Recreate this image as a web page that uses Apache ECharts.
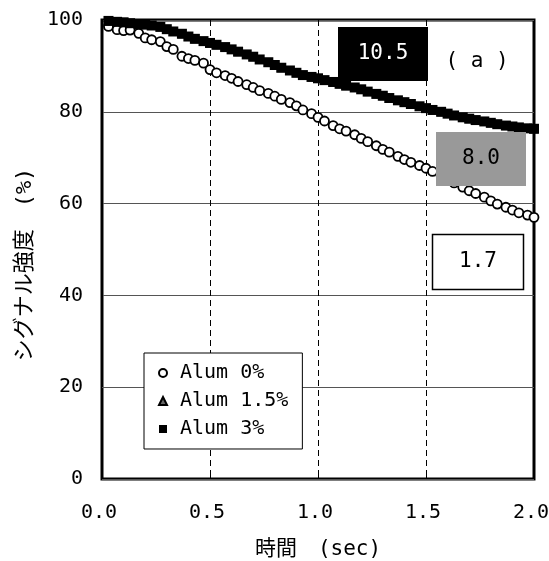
<!DOCTYPE html>
<html>
<head>
<meta charset="utf-8">
<script src="https://cdn.jsdelivr.net/npm/echarts@6/dist/echarts.min.js"></script>
<style>
html,body{margin:0;padding:0;background:#fff;}
#chart{width:549px;height:561px;}
</style>
</head>
<body>
<div id="chart"></div>
<script>
// ---- data ----
const times = [0.03,0.07,0.10,0.13,0.17,0.20,0.23,0.27,0.30,0.33,0.37,0.40,0.43,0.47,0.50,0.53,0.57,0.60,0.63,0.67,0.70,0.73,0.77,0.80,0.83,0.87,0.90,0.93,0.97,1.00,1.03,1.07,1.10,1.13,1.17,1.20,1.23,1.27,1.30,1.33,1.37,1.40,1.43,1.47,1.50,1.53,1.57,1.60,1.63,1.67,1.70,1.73,1.77,1.80,1.83,1.87,1.90,1.93,1.97,2.00];
const alum0 = [98.6,97.9,97.7,97.8,97.1,96.1,95.7,95.3,94.2,93.6,92.1,91.6,91.2,90.6,89.2,88.5,87.9,87.3,86.6,85.9,85.3,84.6,84.0,83.4,82.7,82.0,81.3,80.4,79.6,78.8,78.0,77.0,76.3,75.8,75.0,74.2,73.5,72.6,71.8,71.2,70.3,69.6,69.0,68.3,67.7,67.0,66.0,65.2,64.5,63.6,62.8,62.2,61.4,60.6,59.9,59.2,58.6,58.0,57.5,57.0];
const alum3 = [99.8,99.6,99.5,99.3,99.1,99.0,98.8,98.5,98.0,97.5,97.0,96.4,95.9,95.4,95.0,94.6,94.1,93.6,93.1,92.5,92.0,91.4,90.8,90.2,89.6,89.0,88.5,88.0,87.6,87.3,86.9,86.5,86.1,85.7,85.3,84.9,84.4,83.9,83.5,83.0,82.5,82.1,81.7,81.2,80.8,80.4,80.0,79.6,79.2,78.8,78.5,78.2,77.9,77.6,77.3,77.0,76.8,76.6,76.4,76.3];
// Alum 1.5% markers are hidden under the Alum 3% band in the reference
const alum15 = [99.8,99.6,99.5,99.3,99.1,99.0,98.8,98.5,98.0,97.5,97.0,96.4,95.9,95.4,95.0,94.6,94.1,93.6,93.1,92.5,92.0,91.4,90.8,90.2,89.6,89.0,88.5,88.0,87.6,87.3,86.9,86.5,86.1,85.7,85.3,84.9,84.4,83.9,83.5,83.0,82.5,82.1,81.7,81.2,80.8,80.4,80.0,79.6,79.2,78.8,78.5,78.2,77.9,77.6,77.3,77.0,76.8,76.6,76.4,76.3];
const seriesNames = ['Alum 0%', 'Alum 1.5%', 'Alum 3%'];
const annotations = ['10.5', '8.0', '1.7', '( a )'];
const xAxisName = '時間　(sec)';
const yAxisName = 'シグナル強度　(%)';

const pair = (xs, ys) => xs.map((x, i) => [x, ys[i]]);
const FONT = "'DejaVu Sans Mono','Noto Sans CJK JP',monospace";

const chart = echarts.init(document.getElementById('chart'), null, {renderer: 'canvas'});
chart.setOption({
  backgroundColor: '#fff',
  animation: false,
  grid: {left: 102, right: 15, top: 20, bottom: 82, show: true, borderColor: '#000', borderWidth: 3, backgroundColor: 'transparent', outerBoundsMode: 'none'},
  xAxis: {
    type: 'value', min: 0, max: 2, interval: 0.5,
    name: xAxisName, nameLocation: 'middle', nameGap: 60,
    nameTextStyle: {fontFamily: FONT, fontSize: 21, color: '#000'},
    axisLine: {show: false},
    axisTick: {show: true, inside: true, length: 8, lineStyle: {color: '#000', width: 1}},
    axisLabel: {fontFamily: FONT, fontSize: 20, color: '#000', margin: 24, padding: [0, 6, 0, 0], formatter: v => v.toFixed(1)},
    splitLine: {show: true, lineStyle: {color: '#000', width: 1, type: [6, 4]}}
  },
  yAxis: {
    type: 'value', min: 0, max: 100, interval: 20,
    name: yAxisName, nameLocation: 'middle', nameGap: 66,
    nameTextStyle: {fontFamily: FONT, fontSize: 22, color: '#000', padding: [0, 30, 0, 0]},
    axisLine: {show: false},
    axisTick: {show: false},
    axisLabel: {fontFamily: FONT, fontSize: 20, color: '#000', margin: 19},
    splitLine: {show: true, lineStyle: {color: '#555', width: 1}}
  },
  legend: {
    orient: 'vertical', left: 144, top: 353,
    padding: [10, 14, 10, 14],
    itemGap: 8, itemWidth: 8, itemHeight: 8,
    backgroundColor: '#fff', borderColor: '#000', borderWidth: 1,
    textStyle: {fontFamily: FONT, fontSize: 20, color: '#000', padding: [0, 0, 0, 8]},
    data: seriesNames
  },
  series: [
    {
      name: seriesNames[0], type: 'scatter', data: pair(times, alum0),
      symbol: 'circle', symbolSize: 9,
      itemStyle: {color: '#fff', borderColor: '#000', borderWidth: 1.8, opacity: 1},
      z: 3
    },
    {
      name: seriesNames[1], type: 'scatter', data: pair(times, alum15),
      symbol: 'triangle', symbolSize: 8,
      itemStyle: {color: '#666', borderColor: '#000', borderWidth: 1, opacity: 1},
      z: 3
    },
    {
      name: seriesNames[2], type: 'scatter', data: pair(times, alum3),
      symbol: 'rect', symbolSize: 10,
      itemStyle: {color: '#000', opacity: 1},
      z: 4
    }
  ],
  graphic: [
    {type: 'rect', shape: {x: 338, y: 27, width: 90, height: 54}, style: {fill: '#000'}, z: 10},
    {type: 'text', x: 383, y: 54, style: {text: annotations[0], fill: '#fff', font: "21px " + FONT, align: 'center', verticalAlign: 'middle'}, z: 11},
    {type: 'text', x: 477, y: 62, style: {text: annotations[3], fill: '#000', font: "21px " + FONT, align: 'center', verticalAlign: 'middle'}, z: 11},
    {type: 'rect', shape: {x: 436, y: 132, width: 90, height: 54}, style: {fill: '#999'}, z: 10},
    {type: 'text', x: 481, y: 159, style: {text: annotations[1], fill: '#000', font: "21px " + FONT, align: 'center', verticalAlign: 'middle'}, z: 11},
    {type: 'rect', shape: {x: 432.5, y: 234.5, width: 91, height: 55}, style: {fill: '#fff', stroke: '#000', lineWidth: 1.5}, z: 10},
    {type: 'text', x: 478, y: 262, style: {text: annotations[2], fill: '#000', font: "21px " + FONT, align: 'center', verticalAlign: 'middle'}, z: 11}
  ]
});
</script>
</body>
</html>
